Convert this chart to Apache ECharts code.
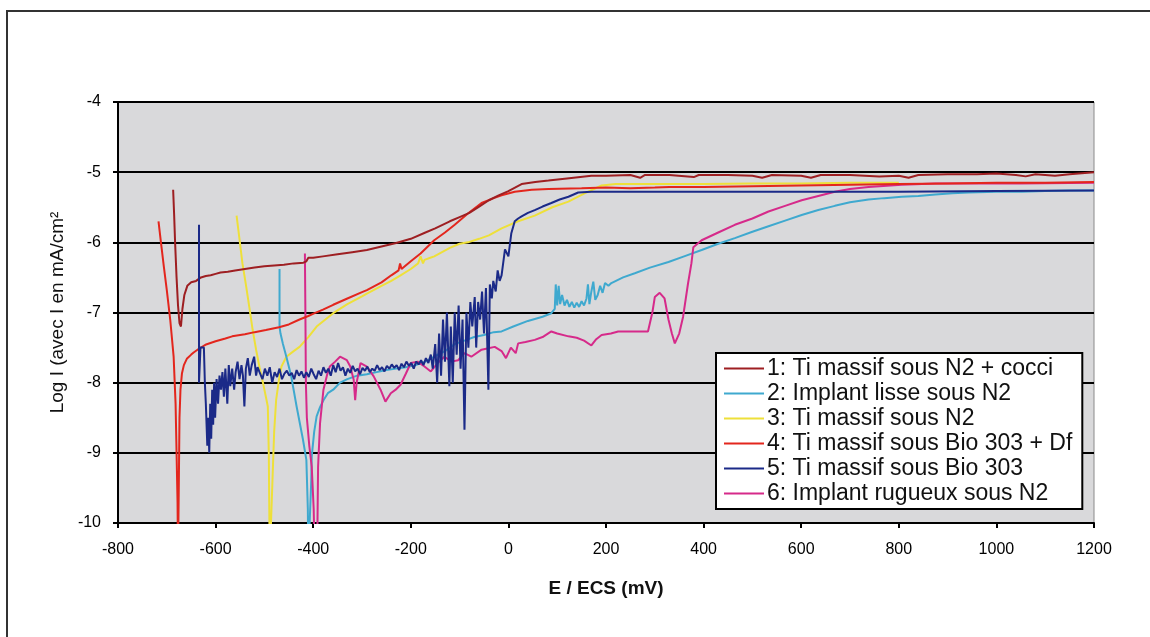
<!DOCTYPE html>
<html><head><meta charset="utf-8">
<script src="https://cdn.jsdelivr.net/npm/echarts@6/dist/echarts.min.js"></script>
<style>html,body{margin:0;padding:0;background:#fff;}#c{width:1150px;height:637px;}</style>
</head><body><div id="c"></div>
<script>
const xTicks = [-800,-600,-400,-200,0,200,400,600,800,1000,1200];
const yTicks = [-10,-9,-8,-7,-6,-5,-4];
const seriesNames = [
  "1: Ti massif sous N2 + cocci",
  "2: Implant lisse sous N2",
  "3: Ti massif sous N2",
  "4: Ti massif sous Bio 303 + Df",
  "5: Ti massif sous Bio 303",
  "6: Implant rugueux sous N2"
];
const s1 = [[-687,-5.25],[-685,-5.6],[-683,-6.0],[-680,-6.5],[-677,-6.9],[-674,-7.15],[-671,-7.2],[-668,-6.95],[-664,-6.75],[-658,-6.62],[-650,-6.57],[-640,-6.55],[-630,-6.5],[-620,-6.48],[-610,-6.47],[-600,-6.45],[-590,-6.43],[-575,-6.42],[-560,-6.4],[-540,-6.38],[-520,-6.36],[-500,-6.34],[-480,-6.33],[-460,-6.32],[-440,-6.3],[-420,-6.29],[-414,-6.27],[-410,-6.22],[-400,-6.22],[-380,-6.2],[-350,-6.17],[-320,-6.14],[-290,-6.11],[-260,-6.06],[-230,-6.01],[-200,-5.95],[-170,-5.86],[-150,-5.8],[-120,-5.7],[-100,-5.64],[-80,-5.58],[-60,-5.49],[-40,-5.4],[-20,-5.33],[0,-5.27],[27,-5.17],[55,-5.14],[82,-5.12],[120,-5.09],[170,-5.05],[200,-5.05],[250,-5.04],[270,-5.08],[280,-5.04],[330,-5.04],[380,-5.07],[390,-5.04],[450,-5.04],[500,-5.05],[520,-5.08],[540,-5.04],[600,-5.05],[620,-5.08],[640,-5.04],[700,-5.04],[760,-5.06],[800,-5.05],[820,-5.08],[840,-5.04],[900,-5.03],[960,-5.03],[1000,-5.02],[1040,-5.04],[1060,-5.06],[1080,-5.03],[1120,-5.05],[1150,-5.03],[1200,-5.0]];
const s2 = [[-469,-6.38],[-469,-7.2],[-467,-7.3],[-462,-7.45],[-455,-7.63],[-445,-7.91],[-434,-8.34],[-421,-8.81],[-414,-9.1],[-411,-9.8],[-410,-10.5],[-406,-10.5],[-404,-9.4],[-403,-9.05],[-398,-8.7],[-393,-8.48],[-386,-8.35],[-379,-8.25],[-370,-8.15],[-359,-8.1],[-345,-8.0],[-330,-7.95],[-310,-7.9],[-290,-7.88],[-270,-7.85],[-250,-7.82],[-230,-7.8],[-210,-7.78],[-190,-7.75],[-170,-7.7],[-150,-7.62],[-130,-7.55],[-110,-7.45],[-90,-7.4],[-70,-7.35],[-50,-7.32],[-30,-7.28],[-14,-7.27],[10,-7.2],[40,-7.12],[70,-7.06],[88,-7.01],[95,-6.95],[97,-6.6],[100,-6.9],[103,-6.62],[106,-6.88],[110,-6.75],[115,-6.9],[120,-6.82],[125,-6.92],[130,-6.85],[135,-6.93],[140,-6.86],[145,-6.92],[150,-6.84],[155,-6.9],[160,-6.8],[163,-6.6],[166,-6.88],[170,-6.7],[174,-6.56],[178,-6.82],[183,-6.75],[188,-6.62],[193,-6.72],[198,-6.58],[205,-6.62],[211,-6.58],[235,-6.5],[259,-6.44],[290,-6.36],[328,-6.28],[360,-6.2],[396,-6.11],[430,-6.02],[464,-5.94],[500,-5.85],[533,-5.77],[567,-5.69],[601,-5.61],[635,-5.54],[669,-5.48],[700,-5.43],[738,-5.39],[770,-5.37],[806,-5.35],[840,-5.34],[875,-5.32],[910,-5.3],[943,-5.29],[1000,-5.28],[1052,-5.28],[1100,-5.27],[1150,-5.26],[1200,-5.26]];
const s3 = [[-557,-5.62],[-552,-5.9],[-545,-6.3],[-538,-6.6],[-531,-6.92],[-524,-7.25],[-517,-7.53],[-510,-7.78],[-503,-8.0],[-497,-8.2],[-493,-8.34],[-491,-9.0],[-490,-9.8],[-489,-10.5],[-486,-10.5],[-484,-9.5],[-480,-8.7],[-476,-8.25],[-470,-7.95],[-465,-7.77],[-455,-7.63],[-440,-7.55],[-428,-7.49],[-410,-7.35],[-393,-7.2],[-375,-7.1],[-359,-7.01],[-330,-6.88],[-300,-6.77],[-290,-6.73],[-260,-6.62],[-240,-6.55],[-221,-6.47],[-200,-6.38],[-185,-6.3],[-180,-6.2],[-175,-6.3],[-172,-6.25],[-160,-6.22],[-152,-6.2],[-120,-6.08],[-100,-6.02],[-83,-6.0],[-60,-5.95],[-40,-5.9],[-14,-5.8],[20,-5.7],[54,-5.62],[90,-5.5],[123,-5.42],[157,-5.3],[191,-5.19],[220,-5.17],[300,-5.17],[400,-5.17],[500,-5.16],[600,-5.16],[700,-5.15],[800,-5.15]];
const s4 = [[-717,-5.7],[-712,-6.0],[-706,-6.35],[-700,-6.68],[-693,-7.1],[-686,-7.63],[-682,-8.3],[-680,-9.0],[-678,-9.7],[-677,-10.5],[-676,-10.5],[-675,-9.2],[-674,-8.5],[-672,-8.1],[-669,-7.87],[-665,-7.75],[-659,-7.66],[-650,-7.6],[-645,-7.57],[-635,-7.52],[-621,-7.46],[-600,-7.41],[-580,-7.37],[-566,-7.34],[-540,-7.31],[-520,-7.28],[-497,-7.25],[-470,-7.21],[-450,-7.17],[-428,-7.1],[-410,-7.05],[-397,-7.01],[-380,-6.96],[-359,-6.89],[-330,-6.8],[-300,-6.71],[-290,-6.68],[-260,-6.57],[-240,-6.47],[-225,-6.4],[-222,-6.3],[-219,-6.38],[-200,-6.27],[-180,-6.16],[-152,-5.97],[-130,-5.86],[-110,-5.75],[-83,-5.59],[-55,-5.44],[-30,-5.37],[-14,-5.33],[13,-5.28],[48,-5.25],[82,-5.24],[150,-5.23],[200,-5.22],[250,-5.23],[300,-5.22],[330,-5.21],[400,-5.21],[500,-5.2],[600,-5.19],[700,-5.18],[800,-5.17],[900,-5.16],[1000,-5.15],[1100,-5.15],[1200,-5.14]];
const s5 = [[-634,-5.75],[-634,-8.0],[-631,-8.0],[-631,-7.5],[-624,-7.5],[-622,-8.0],[-620,-8.3],[-617,-8.9],[-615,-8.5],[-613,-9.0],[-611,-8.3],[-609,-8.8],[-607,-8.1],[-605,-8.6],[-603,-8.0],[-601,-8.5],[-598,-7.95],[-595,-8.3],[-592,-7.9],[-589,-8.1],[-586,-7.85],[-583,-8.2],[-580,-7.8],[-576,-8.3],[-573,-7.75],[-570,-8.05],[-566,-7.8],[-562,-8.1],[-559,-7.85],[-555,-7.7],[-551,-7.95],[-547,-7.75],[-544,-7.9],[-541,-8.34],[-538,-7.8],[-534,-7.65],[-530,-7.9],[-526,-7.75],[-521,-7.63],[-517,-7.9],[-514,-7.78],[-510,-7.85],[-504,-7.95],[-499,-7.8],[-494,-7.9],[-489,-7.78],[-484,-8.0],[-479,-7.85],[-474,-7.92],[-469,-7.8],[-464,-7.95],[-459,-7.87],[-454,-7.83],[-449,-7.9],[-444,-7.86],[-439,-7.95],[-434,-7.82],[-429,-7.9],[-424,-7.84],[-419,-7.93],[-414,-7.85],[-409,-7.92],[-404,-7.8],[-399,-7.88],[-394,-7.95],[-389,-7.83],[-384,-7.9],[-379,-7.78],[-374,-7.86],[-369,-7.8],[-364,-7.9],[-359,-7.75],[-354,-7.85],[-349,-7.72],[-344,-7.83],[-339,-7.78],[-334,-7.9],[-329,-7.8],[-324,-7.86],[-319,-7.76],[-314,-7.84],[-309,-7.8],[-304,-7.88],[-299,-7.79],[-294,-7.83],[-289,-7.77],[-284,-7.85],[-279,-7.8],[-274,-7.83],[-269,-7.75],[-264,-7.82],[-259,-7.78],[-254,-7.84],[-249,-7.76],[-244,-7.8],[-239,-7.74],[-234,-7.79],[-229,-7.75],[-224,-7.82],[-219,-7.73],[-214,-7.78],[-209,-7.7],[-204,-7.76],[-199,-7.72],[-194,-7.8],[-189,-7.7],[-184,-7.74],[-179,-7.68],[-174,-7.75],[-169,-7.65],[-164,-7.72],[-159,-7.6],[-155,-7.8],[-150,-7.45],[-146,-8.0],[-142,-7.3],[-138,-7.9],[-134,-7.1],[-130,-7.7],[-126,-7.0],[-121,-8.05],[-118,-7.2],[-114,-8.0],[-110,-7.0],[-106,-7.6],[-102,-6.9],[-98,-7.8],[-94,-7.1],[-90,-8.67],[-86,-7.0],[-82,-7.5],[-78,-6.85],[-74,-7.2],[-69,-6.78],[-66,-7.5],[-62,-6.85],[-58,-7.1],[-54,-6.7],[-50,-7.3],[-46,-6.65],[-41,-8.1],[-38,-6.6],[-34,-6.8],[-31,-6.55],[-26,-6.7],[-22,-6.4],[-18,-6.55],[-14,-6.47],[-7,-6.1],[0,-6.2],[6,-5.87],[13,-5.7],[20,-5.66],[27,-5.63],[40,-5.58],[54,-5.54],[70,-5.49],[88,-5.44],[105,-5.39],[123,-5.35],[143,-5.29],[170,-5.28],[250,-5.28],[400,-5.28],[600,-5.28],[800,-5.28],[1000,-5.27],[1200,-5.26]];
const s6 = [[-417,-6.16],[-416,-7.0],[-415,-8.0],[-413,-8.5],[-408,-8.9],[-403,-9.2],[-399,-9.8],[-397,-10.5],[-392,-10.5],[-390,-9.2],[-386,-8.58],[-379,-8.1],[-372,-7.9],[-366,-7.77],[-355,-7.7],[-345,-7.63],[-331,-7.68],[-324,-7.77],[-317,-7.96],[-314,-8.25],[-311,-8.0],[-303,-7.72],[-290,-7.77],[-276,-7.91],[-262,-8.1],[-252,-8.27],[-241,-8.15],[-231,-8.1],[-221,-8.03],[-210,-7.87],[-200,-7.72],[-186,-7.7],[-172,-7.77],[-159,-7.84],[-145,-7.72],[-131,-7.63],[-117,-7.7],[-103,-7.68],[-90,-7.58],[-76,-7.63],[-55,-7.53],[-41,-7.51],[-28,-7.49],[-14,-7.55],[-5,-7.65],[5,-7.5],[15,-7.58],[20,-7.44],[35,-7.42],[54,-7.39],[70,-7.35],[88,-7.27],[100,-7.3],[123,-7.34],[140,-7.36],[155,-7.4],[170,-7.47],[180,-7.38],[191,-7.32],[210,-7.3],[225,-7.27],[260,-7.27],[286,-7.27],[295,-7.0],[300,-6.78],[310,-6.72],[320,-6.8],[328,-7.1],[335,-7.3],[341,-7.44],[350,-7.3],[358,-7.06],[368,-6.59],[375,-6.3],[379,-6.07],[396,-5.97],[430,-5.86],[464,-5.75],[500,-5.66],[533,-5.56],[567,-5.48],[601,-5.4],[635,-5.34],[669,-5.28],[700,-5.24],[738,-5.21],[806,-5.18],[875,-5.16],[950,-5.16],[1050,-5.16],[1200,-5.15]];
const seriesColors = ['#9E1F22','#3FA9CF','#EEE03A','#E3261D','#1B2A88','#D62A8A'];

const allData = [s1,s2,s3,s4,s5,s6];
const drawOrder = [2,1,5,3,0,4];
const series = drawOrder.map(i => ({
  name: seriesNames[i], type: 'line', data: allData[i], showSymbol: false, symbol: 'none',
  clip: true, lineStyle: {color: seriesColors[i], width: 2}, itemStyle: {color: seriesColors[i]},
  z: 2 + drawOrder.indexOf(i)
}));

const chart = echarts.init(document.getElementById('c'), null, {renderer: 'canvas'});
chart.setOption({
  animation: false,
  backgroundColor: '#ffffff',
  graphic: [{type: 'rect', shape: {x: 7, y: 11, width: 1200, height: 700}, style: {fill: 'none', stroke: '#333', lineWidth: 2}, z: 0}],
  grid: {left: 118, right: 56, top: 102, bottom: 114, show: true, backgroundColor: '#d9d9db', borderColor: '#8a8a8a', borderWidth: 1},
  legend: {
    data: seriesNames, orient: 'vertical', left: 716, top: 353, padding: [3, 10, 3, 8],
    backgroundColor: '#ffffff', borderColor: '#000', borderWidth: 2, itemGap: 0,
    icon: 'rect', itemWidth: 40, itemHeight: 2,
    textStyle: {fontFamily: 'Liberation Sans, Arial, sans-serif', fontSize: 23, color: '#111', lineHeight: 25, padding: [0,0,0,-2]}
  },
  xAxis: {
    type: 'value', min: -800, max: 1200, interval: 200,
    name: 'E / ECS (mV)', nameLocation: 'middle', nameGap: 56,
    nameTextStyle: {fontFamily: 'Liberation Sans, Arial, sans-serif', fontSize: 19, fontWeight: 'bold', color: '#111'},
    axisLine: {onZero: false, lineStyle: {color: '#000', width: 2}},
    axisTick: {show: true, inside: false, length: 5, lineStyle: {color: '#000', width: 2}},
    axisLabel: {margin: 19, fontFamily: 'Liberation Sans, Arial, sans-serif', fontSize: 16, color: '#000', formatter: v => xTicks.includes(v) ? String(v) : ''},
    splitLine: {show: false}
  },
  yAxis: {
    type: 'value', min: -10, max: -4, interval: 1,
    name: 'Log I (avec I en mA/cm²', nameLocation: 'middle', nameGap: 44, nameRotate: 90,
    nameTextStyle: {fontFamily: 'Liberation Sans, Arial, sans-serif', fontSize: 19, color: '#111'},
    axisLine: {onZero: false, lineStyle: {color: '#000', width: 2}},
    axisTick: {show: true, inside: false, length: 5, lineStyle: {color: '#000', width: 2}},
    axisLabel: {margin: 17, fontFamily: 'Liberation Sans, Arial, sans-serif', fontSize: 16, color: '#000', formatter: v => yTicks.includes(v) ? String(v) : ''},
    splitLine: {show: true, lineStyle: {color: '#000', width: 2}}
  },
  series: series
});
</script>
</body></html>
